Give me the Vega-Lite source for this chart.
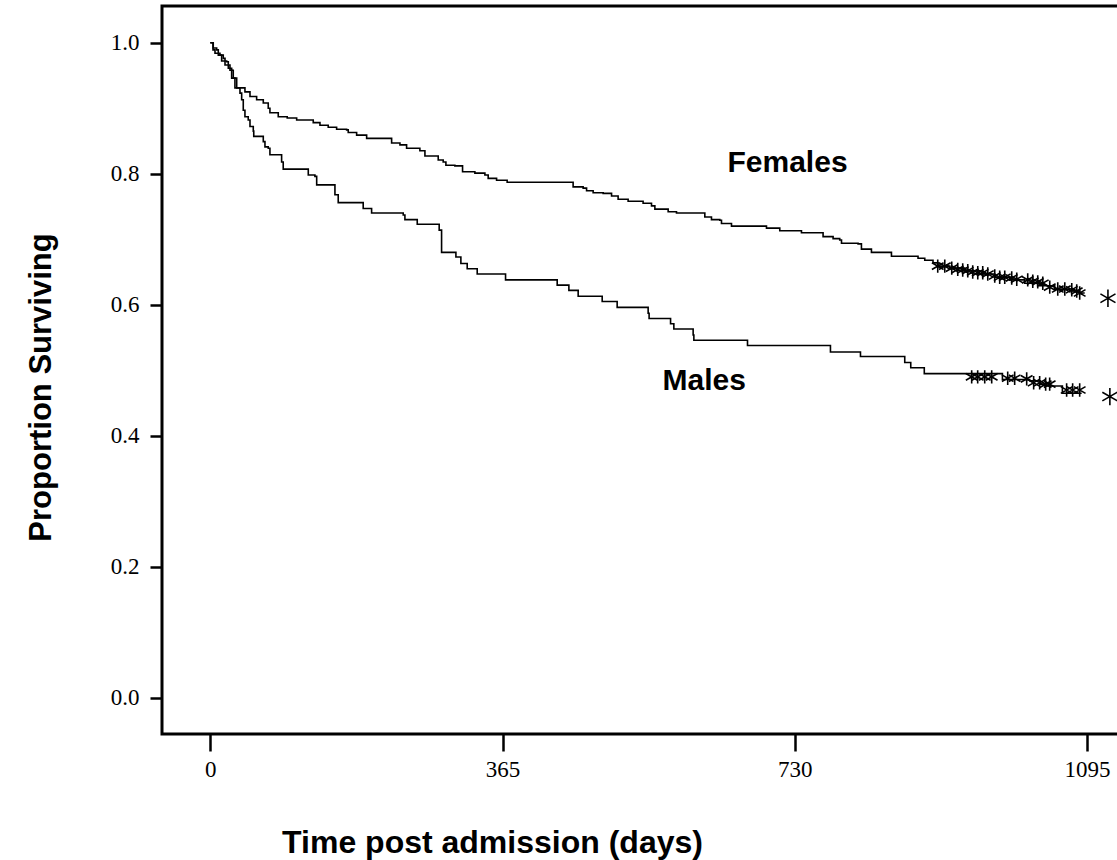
{
  "$schema": "https://vega.github.io/schema/vega-lite/v6.json",
  "width": 961,
  "height": 728,
  "autosize": "none",
  "padding": {"left": 162, "top": 6, "right": 0, "bottom": 126},
  "background": "white",
  "config": {
    "view": {"stroke": "black", "strokeWidth": 3},
    "axis": {"grid": false, "domain": false, "tickColor": "black", "tickWidth": 2.5, "labelColor": "black", "labelFont": "Liberation Serif", "labelFontSize": 23, "titleFont": "Liberation Sans", "titleFontWeight": "bold", "titleFontSize": 31, "titleColor": "black"}
  },
  "datasets": {
    "curves": [
      {"group": "Females", "day": 0, "surv": 1.0},
      {"group": "Females", "day": 3.4, "surv": 0.989},
      {"group": "Females", "day": 5.9, "surv": 0.984},
      {"group": "Females", "day": 12.1, "surv": 0.981},
      {"group": "Females", "day": 14.2, "surv": 0.972},
      {"group": "Females", "day": 20.5, "surv": 0.971},
      {"group": "Females", "day": 22.5, "surv": 0.961},
      {"group": "Females", "day": 26.7, "surv": 0.958},
      {"group": "Females", "day": 28.7, "surv": 0.946},
      {"group": "Females", "day": 30.8, "surv": 0.931},
      {"group": "Females", "day": 43.3, "surv": 0.925},
      {"group": "Females", "day": 49.6, "surv": 0.918},
      {"group": "Females", "day": 57.9, "surv": 0.913},
      {"group": "Females", "day": 66.2, "surv": 0.908},
      {"group": "Females", "day": 72.4, "surv": 0.9},
      {"group": "Females", "day": 74.5, "surv": 0.893},
      {"group": "Females", "day": 84.9, "surv": 0.887},
      {"group": "Females", "day": 96.1, "surv": 0.885},
      {"group": "Females", "day": 107.9, "surv": 0.882},
      {"group": "Females", "day": 128.6, "surv": 0.878},
      {"group": "Females", "day": 137.0, "surv": 0.874},
      {"group": "Females", "day": 147.3, "surv": 0.871},
      {"group": "Females", "day": 157.8, "surv": 0.868},
      {"group": "Females", "day": 170.3, "surv": 0.867},
      {"group": "Females", "day": 172.3, "surv": 0.863},
      {"group": "Females", "day": 182.8, "surv": 0.859},
      {"group": "Females", "day": 195.3, "surv": 0.854},
      {"group": "Females", "day": 226.5, "surv": 0.847},
      {"group": "Females", "day": 236.9, "surv": 0.844},
      {"group": "Females", "day": 245.2, "surv": 0.839},
      {"group": "Females", "day": 261.8, "surv": 0.835},
      {"group": "Females", "day": 268.1, "surv": 0.827},
      {"group": "Females", "day": 284.7, "surv": 0.821},
      {"group": "Females", "day": 290.9, "surv": 0.818},
      {"group": "Females", "day": 294.3, "surv": 0.813},
      {"group": "Females", "day": 305.5, "surv": 0.812},
      {"group": "Females", "day": 315.1, "surv": 0.803},
      {"group": "Females", "day": 330.5, "surv": 0.801},
      {"group": "Females", "day": 343.0, "surv": 0.798},
      {"group": "Females", "day": 347.1, "surv": 0.793},
      {"group": "Females", "day": 357.6, "surv": 0.79},
      {"group": "Females", "day": 370.8, "surv": 0.787},
      {"group": "Females", "day": 453.2, "surv": 0.78},
      {"group": "Females", "day": 465.7, "surv": 0.778},
      {"group": "Females", "day": 470.0, "surv": 0.774},
      {"group": "Females", "day": 478.2, "surv": 0.771},
      {"group": "Females", "day": 490.7, "surv": 0.77},
      {"group": "Females", "day": 501.2, "surv": 0.766},
      {"group": "Females", "day": 509.4, "surv": 0.761},
      {"group": "Females", "day": 521.9, "surv": 0.758},
      {"group": "Females", "day": 540.6, "surv": 0.755},
      {"group": "Females", "day": 551.1, "surv": 0.751},
      {"group": "Females", "day": 555.3, "surv": 0.746},
      {"group": "Females", "day": 571.9, "surv": 0.742},
      {"group": "Females", "day": 582.3, "surv": 0.74},
      {"group": "Females", "day": 617.7, "surv": 0.734},
      {"group": "Females", "day": 626.0, "surv": 0.73},
      {"group": "Females", "day": 636.4, "surv": 0.729},
      {"group": "Females", "day": 638.5, "surv": 0.724},
      {"group": "Females", "day": 651.0, "surv": 0.72},
      {"group": "Females", "day": 694.7, "surv": 0.717},
      {"group": "Females", "day": 711.3, "surv": 0.713},
      {"group": "Females", "day": 738.4, "surv": 0.71},
      {"group": "Females", "day": 765.4, "surv": 0.704},
      {"group": "Females", "day": 777.9, "surv": 0.701},
      {"group": "Females", "day": 786.2, "surv": 0.699},
      {"group": "Females", "day": 788.4, "surv": 0.694},
      {"group": "Females", "day": 809.1, "surv": 0.693},
      {"group": "Females", "day": 813.3, "surv": 0.685},
      {"group": "Females", "day": 825.8, "surv": 0.68},
      {"group": "Females", "day": 850.8, "surv": 0.674},
      {"group": "Females", "day": 884.0, "surv": 0.671},
      {"group": "Females", "day": 892.4, "surv": 0.668},
      {"group": "Females", "day": 902.7, "surv": 0.664},
      {"group": "Females", "day": 909.0, "surv": 0.659},
      {"group": "Females", "day": 923.6, "surv": 0.656},
      {"group": "Females", "day": 942.3, "surv": 0.652},
      {"group": "Females", "day": 961.0, "surv": 0.647},
      {"group": "Females", "day": 979.8, "surv": 0.642},
      {"group": "Females", "day": 998.5, "surv": 0.638},
      {"group": "Females", "day": 1017.2, "surv": 0.633},
      {"group": "Females", "day": 1036.0, "surv": 0.629},
      {"group": "Females", "day": 1054.7, "surv": 0.624},
      {"group": "Females", "day": 1073.4, "surv": 0.621},
      {"group": "Females", "day": 1085.9, "surv": 0.618},
      {"group": "Females", "day": 1092.2, "surv": 0.618},
      {"group": "Males", "day": 0, "surv": 1.0},
      {"group": "Males", "day": 3.7, "surv": 0.992},
      {"group": "Males", "day": 8.0, "surv": 0.989},
      {"group": "Males", "day": 10.0, "surv": 0.981},
      {"group": "Males", "day": 16.2, "surv": 0.976},
      {"group": "Males", "day": 18.4, "surv": 0.966},
      {"group": "Males", "day": 24.6, "surv": 0.958},
      {"group": "Males", "day": 26.7, "surv": 0.946},
      {"group": "Males", "day": 33.0, "surv": 0.931},
      {"group": "Males", "day": 37.1, "surv": 0.923},
      {"group": "Males", "day": 39.2, "surv": 0.913},
      {"group": "Males", "day": 41.2, "surv": 0.897},
      {"group": "Males", "day": 43.3, "surv": 0.887},
      {"group": "Males", "day": 47.4, "surv": 0.882},
      {"group": "Males", "day": 49.6, "surv": 0.872},
      {"group": "Males", "day": 53.7, "surv": 0.865},
      {"group": "Males", "day": 54.3, "surv": 0.857},
      {"group": "Males", "day": 66.2, "surv": 0.849},
      {"group": "Males", "day": 68.3, "surv": 0.841},
      {"group": "Males", "day": 72.4, "surv": 0.839},
      {"group": "Males", "day": 74.5, "surv": 0.829},
      {"group": "Males", "day": 89.1, "surv": 0.818},
      {"group": "Males", "day": 91.1, "surv": 0.807},
      {"group": "Males", "day": 122.4, "surv": 0.798},
      {"group": "Males", "day": 130.7, "surv": 0.796},
      {"group": "Males", "day": 132.9, "surv": 0.783},
      {"group": "Males", "day": 155.7, "surv": 0.768},
      {"group": "Males", "day": 159.8, "surv": 0.756},
      {"group": "Males", "day": 191.0, "surv": 0.747},
      {"group": "Males", "day": 201.5, "surv": 0.74},
      {"group": "Males", "day": 241.0, "surv": 0.737},
      {"group": "Males", "day": 243.1, "surv": 0.73},
      {"group": "Males", "day": 258.5, "surv": 0.723},
      {"group": "Males", "day": 285.9, "surv": 0.714},
      {"group": "Males", "day": 288.9, "surv": 0.68},
      {"group": "Males", "day": 306.8, "surv": 0.673},
      {"group": "Males", "day": 313.0, "surv": 0.663},
      {"group": "Males", "day": 320.9, "surv": 0.655},
      {"group": "Males", "day": 333.4, "surv": 0.647},
      {"group": "Males", "day": 368.8, "surv": 0.638},
      {"group": "Males", "day": 433.3, "surv": 0.63},
      {"group": "Males", "day": 447.9, "surv": 0.622},
      {"group": "Males", "day": 459.5, "surv": 0.613},
      {"group": "Males", "day": 489.5, "surv": 0.605},
      {"group": "Males", "day": 508.2, "surv": 0.596},
      {"group": "Males", "day": 546.9, "surv": 0.587},
      {"group": "Males", "day": 548.1, "surv": 0.579},
      {"group": "Males", "day": 574.9, "surv": 0.571},
      {"group": "Males", "day": 579.0, "surv": 0.563},
      {"group": "Males", "day": 603.1, "surv": 0.554},
      {"group": "Males", "day": 604.0, "surv": 0.546},
      {"group": "Males", "day": 671.0, "surv": 0.538},
      {"group": "Males", "day": 774.6, "surv": 0.528},
      {"group": "Males", "day": 812.1, "surv": 0.521},
      {"group": "Males", "day": 867.4, "surv": 0.512},
      {"group": "Males", "day": 874.9, "surv": 0.504},
      {"group": "Males", "day": 891.8, "surv": 0.495},
      {"group": "Males", "day": 989.4, "surv": 0.486},
      {"group": "Males", "day": 1023.5, "surv": 0.484},
      {"group": "Males", "day": 1036.0, "surv": 0.479},
      {"group": "Males", "day": 1044.3, "surv": 0.476},
      {"group": "Males", "day": 1064.3, "surv": 0.465},
      {"group": "Males", "day": 1088.4, "surv": 0.465}
    ],
    "censored": [
      {"group": "Females", "day": 908.6, "surv": 0.659, "big": false},
      {"group": "Females", "day": 917.4, "surv": 0.659, "big": false},
      {"group": "Females", "day": 926.1, "surv": 0.656, "big": false},
      {"group": "Females", "day": 933.6, "surv": 0.654, "big": false},
      {"group": "Females", "day": 939.8, "surv": 0.653, "big": false},
      {"group": "Females", "day": 946.1, "surv": 0.652, "big": false},
      {"group": "Females", "day": 952.3, "surv": 0.65, "big": false},
      {"group": "Females", "day": 958.6, "surv": 0.649, "big": false},
      {"group": "Females", "day": 964.8, "surv": 0.649, "big": false},
      {"group": "Females", "day": 971.1, "surv": 0.647, "big": false},
      {"group": "Females", "day": 979.8, "surv": 0.644, "big": false},
      {"group": "Females", "day": 986.0, "surv": 0.642, "big": false},
      {"group": "Females", "day": 992.3, "surv": 0.642, "big": false},
      {"group": "Females", "day": 1001.0, "surv": 0.641, "big": false},
      {"group": "Females", "day": 1007.3, "surv": 0.639, "big": false},
      {"group": "Females", "day": 1021.0, "surv": 0.638, "big": false},
      {"group": "Females", "day": 1027.3, "surv": 0.636, "big": false},
      {"group": "Females", "day": 1033.5, "surv": 0.635, "big": false},
      {"group": "Females", "day": 1039.8, "surv": 0.633, "big": false},
      {"group": "Females", "day": 1048.5, "surv": 0.627, "big": false},
      {"group": "Females", "day": 1058.5, "surv": 0.624, "big": false},
      {"group": "Females", "day": 1067.3, "surv": 0.624, "big": false},
      {"group": "Females", "day": 1076.0, "surv": 0.623, "big": false},
      {"group": "Females", "day": 1082.2, "surv": 0.621, "big": false},
      {"group": "Females", "day": 1085.9, "surv": 0.618, "big": false},
      {"group": "Females", "day": 1121.2, "surv": 0.61, "big": true},
      {"group": "Males", "day": 951.0, "surv": 0.49, "big": false},
      {"group": "Males", "day": 958.5, "surv": 0.49, "big": false},
      {"group": "Males", "day": 967.3, "surv": 0.49, "big": false},
      {"group": "Males", "day": 976.0, "surv": 0.49, "big": false},
      {"group": "Males", "day": 996.0, "surv": 0.488, "big": false},
      {"group": "Males", "day": 1004.7, "surv": 0.488, "big": false},
      {"group": "Males", "day": 1019.7, "surv": 0.487, "big": false},
      {"group": "Males", "day": 1028.4, "surv": 0.481, "big": false},
      {"group": "Males", "day": 1035.9, "surv": 0.481, "big": false},
      {"group": "Males", "day": 1043.4, "surv": 0.479, "big": false},
      {"group": "Males", "day": 1048.4, "surv": 0.479, "big": false},
      {"group": "Males", "day": 1069.6, "surv": 0.47, "big": false},
      {"group": "Males", "day": 1077.1, "surv": 0.47, "big": false},
      {"group": "Males", "day": 1085.9, "surv": 0.47, "big": false},
      {"group": "Males", "day": 1123.6, "surv": 0.46, "big": true}
    ],
    "labels": [
      {"label": "Females", "day": 721, "surv": 0.816},
      {"label": "Males", "day": 617, "surv": 0.484}
    ]
  },
  "layer": [
    {
      "data": {"name": "curves"},
      "mark": {"type": "line", "interpolate": "step-after", "color": "black", "strokeWidth": 1.6},
      "encoding": {
        "x": {"field": "day", "type": "quantitative", "scale": {"domain": [-60.3, 1140], "nice": false, "zero": false},
          "axis": {"values": [0, 365, 730, 1095], "format": "d", "tickSize": 17, "labelPadding": 7, "title": "Time post admission (days)", "titleFontSize": 32, "titleX": 330, "titleY": 108, "titleBaseline": "middle", "titleAlign": "center"}},
        "y": {"field": "surv", "type": "quantitative", "scale": {"domain": [-0.055, 1.056], "nice": false, "zero": false},
          "axis": {"values": [0, 0.2, 0.4, 0.6, 0.8, 1.0], "format": ".1f", "tickSize": 12, "labelPadding": 11, "title": "Proportion Surviving", "titleX": -121, "titleY": 381, "titleAngle": -90, "titleBaseline": "middle", "titleAlign": "center"}},
        "detail": {"field": "group", "type": "nominal"}
      }
    },
    {
      "data": {"name": "censored"},
      "mark": {"type": "point", "shape": "M0,-1L0,1M-0.87,-0.5L0.87,0.5M-0.87,0.5L0.87,-0.5", "filled": false, "stroke": "black", "strokeWidth": 1.6, "opacity": 1},
      "encoding": {
        "x": {"field": "day", "type": "quantitative"},
        "y": {"field": "surv", "type": "quantitative"},
        "size": {"field": "big", "type": "nominal", "scale": {"domain": [false, true], "range": [180, 300]}, "legend": null}
      }
    },
    {
      "data": {"name": "labels"},
      "mark": {"type": "text", "font": "Liberation Sans", "fontWeight": "bold", "fontSize": 30, "color": "black", "align": "center", "baseline": "middle"},
      "encoding": {
        "x": {"field": "day", "type": "quantitative"},
        "y": {"field": "surv", "type": "quantitative"},
        "text": {"field": "label", "type": "nominal"}
      }
    }
  ]
}
